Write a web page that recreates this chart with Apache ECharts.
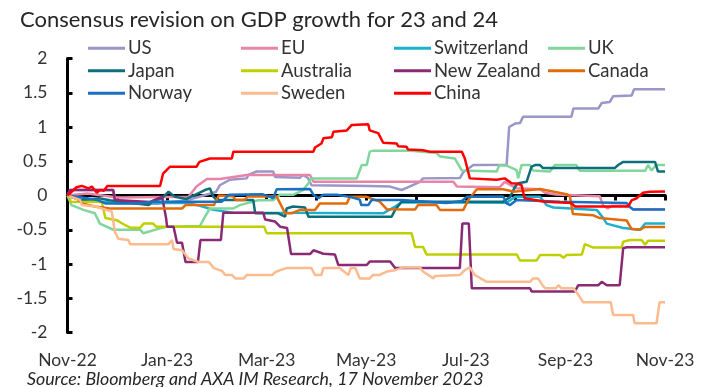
<!DOCTYPE html>
<html>
<head>
<meta charset="utf-8">
<script src="https://cdn.jsdelivr.net/npm/echarts@6/dist/echarts.min.js"></script>
<style>
  html, body { margin: 0; padding: 0; background: #fff; }
  #chart { width: 709px; height: 387px; }
</style>
</head>
<body>
<div id="chart"></div>
<script>
// x = months since 17 Nov 2022, y = cumulative consensus revision (pp)
const monthLabels = ['Nov-22', 'Jan-23', 'Mar-23', 'May-23', 'Jul-23', 'Sep-23', 'Nov-23'];

const us = [[0,0],[0.05,0.08],[0.91,0.08],[0.99,-0.11],[1.80,-0.12],[2.39,-0.07],[2.98,0.05],[3.06,0.15],[3.26,0.23],[3.60,0.25],[3.63,0.30],[3.80,0.35],[4.13,0.35],[4.17,0.27],[4.67,0.26],[4.73,0.30],[4.83,0.255],[4.90,0.15],[6.07,0.14],[6.48,0.13],[6.71,0.08],[6.81,0.11],[7.08,0.20],[7.14,0.25],[7.88,0.255],[7.95,0.34],[8.15,0.445],[8.82,0.45],[8.87,1.00],[8.99,1.05],[9.09,1.06],[9.15,1.15],[10.12,1.15],[10.16,1.27],[10.66,1.27],[10.73,1.35],[10.89,1.365],[10.96,1.45],[11.33,1.46],[11.38,1.55],[12,1.55]];

const eu = [[0,0],[0.4,0.03],[1.0,-0.03],[2.43,-0.02],[2.59,0.13],[2.80,0.24],[3.06,0.24],[3.60,0.30],[4.87,0.30],[4.94,0.20],[7.75,0.20],[7.82,0.13],[8.68,0.12],[8.78,0.20],[8.93,0.14],[9.02,0.105],[9.49,0.09],[9.59,0.04],[9.81,0.015],[10.69,-0.01],[10.76,-0.15],[10.85,-0.19],[10.93,-0.15],[11.25,-0.15],[11.36,-0.2],[12,-0.2]];

const switzerland = [[0,0],[0.25,-0.065],[0.99,-0.11],[2.39,-0.11],[2.66,-0.15],[2.93,-0.21],[3.33,-0.25],[6.34,-0.26],[6.58,-0.16],[6.71,-0.10],[8.82,-0.105],[8.99,-0.02],[9.49,-0.02],[9.62,-0.14],[9.76,-0.175],[10.63,-0.21],[10.76,-0.33],[10.83,-0.41],[11.16,-0.475],[11.20,-0.50],[11.50,-0.50],[11.60,-0.41],[12,-0.41]];

const uk = [[0,0],[0.08,-0.14],[0.32,-0.21],[0.55,-0.26],[0.65,-0.41],[0.92,-0.50],[1.46,-0.50],[1.52,-0.55],[1.86,-0.48],[1.99,-0.455],[2.66,-0.445],[2.76,-0.31],[2.86,-0.19],[3.33,-0.19],[3.46,-0.14],[3.83,-0.07],[4.13,-0.07],[4.27,0.01],[4.53,0.01],[4.73,0.08],[4.84,0.18],[4.90,0.25],[5.81,0.25],[5.91,0.445],[6.01,0.445],[6.07,0.64],[6.14,0.655],[6.91,0.655],[7.41,0.62],[7.48,0.57],[7.78,0.54],[7.92,0.365],[8.62,0.35],[8.67,0.44],[8.82,0.435],[9.02,0.37],[9.05,0.25],[9.12,0.445],[9.29,0.445],[9.35,0.365],[9.69,0.35],[9.79,0.445],[10.22,0.445],[10.29,0.36],[11.60,0.36],[11.66,0.445],[11.73,0.365],[11.82,0.445],[12,0.445]];

const japan = [[0,0],[0.29,-0.07],[0.63,-0.04],[0.85,-0.07],[1.63,-0.14],[1.70,-0.09],[1.90,-0.04],[2.03,0.055],[2.16,-0.02],[2.39,-0.05],[2.76,0.08],[2.86,0.105],[2.93,-0.02],[3.00,-0.065],[3.73,-0.065],[3.77,-0.26],[4.23,-0.26],[4.37,-0.31],[4.40,-0.19],[4.53,-0.16],[4.77,-0.175],[4.84,-0.31],[6.51,-0.31],[6.58,-0.21],[6.71,-0.09],[8.75,-0.09],[8.89,-0.02],[8.99,0.13],[9.05,0.18],[9.22,0.20],[9.32,0.42],[9.39,0.445],[9.49,0.445],[9.55,0.40],[10.99,0.40],[11.06,0.445],[11.16,0.49],[11.80,0.49],[11.86,0.35],[12,0.35]];

const australia = [[0,0],[0.05,-0.04],[0.06,-0.09],[0.69,-0.095],[0.76,-0.33],[0.99,-0.36],[1.09,-0.405],[1.26,-0.47],[1.46,-0.47],[1.53,-0.41],[1.72,-0.41],[1.78,-0.455],[3.95,-0.455],[4.00,-0.55],[6.91,-0.55],[6.98,-0.75],[7.14,-0.75],[7.21,-0.86],[9.02,-0.86],[9.09,-0.95],[9.42,-0.95],[9.49,-0.87],[9.89,-0.87],[9.96,-0.91],[10.02,-0.87],[10.33,-0.86],[10.39,-0.71],[10.56,-0.76],[11.13,-0.76],[11.16,-0.675],[11.30,-0.65],[11.53,-0.65],[11.60,-0.72],[11.66,-0.66],[12,-0.66]];

const newZealand = [[0,0],[0.05,0.08],[0.92,0.08],[0.95,-0.065],[1.66,-0.095],[1.83,-0.04],[1.90,-0.02],[1.98,-0.33],[2.00,-0.455],[2.13,-0.455],[2.20,-0.69],[2.30,-0.69],[2.37,-0.97],[2.62,-0.97],[2.67,-0.65],[3.08,-0.65],[3.13,-0.25],[3.93,-0.25],[3.97,-0.35],[4.17,-0.38],[4.27,-0.455],[4.41,-0.475],[4.49,-0.855],[4.87,-0.855],[4.94,-0.80],[5.14,-0.85],[5.37,-0.86],[5.44,-1.015],[6.01,-1.015],[6.07,-0.965],[6.48,-0.965],[6.58,-1.06],[7.88,-1.06],[7.93,-0.41],[8.06,-0.41],[8.12,-1.355],[9.29,-1.355],[9.32,-1.40],[10.19,-1.40],[10.26,-1.31],[10.66,-1.31],[10.73,-1.26],[10.83,-1.31],[11.09,-1.31],[11.16,-0.77],[11.23,-0.755],[12,-0.755]];

const canada = [[0,0],[0.15,-0.02],[0.29,-0.115],[0.55,-0.16],[0.85,-0.19],[2.30,-0.19],[2.37,-0.14],[2.94,-0.14],[3.04,0.00],[3.32,-0.01],[3.38,-0.065],[3.56,-0.065],[3.62,-0.01],[4.20,-0.015],[4.27,-0.115],[4.37,-0.26],[4.50,-0.26],[4.67,-0.21],[4.97,-0.21],[5.07,-0.115],[5.61,-0.115],[5.67,-0.02],[6.01,-0.02],[6.27,-0.09],[6.41,-0.20],[6.98,-0.205],[7.04,-0.14],[7.41,-0.14],[7.48,-0.21],[7.95,-0.21],[8.05,-0.065],[8.22,0.09],[8.75,0.09],[8.88,0.07],[8.95,0.055],[9.49,0.095],[10.02,0.02],[10.09,-0.01],[10.15,-0.27],[10.56,-0.29],[10.69,-0.33],[11.23,-0.365],[11.33,-0.49],[11.50,-0.50],[11.60,-0.46],[12,-0.46]];

const norway = [[0,0],[0.39,-0.04],[0.59,-0.065],[0.76,-0.115],[1.46,-0.115],[1.70,-0.09],[3.10,-0.09],[3.24,0.01],[3.91,0.02],[4.07,-0.02],[4.13,-0.04],[4.20,0.09],[4.87,0.095],[4.94,0.01],[5.04,-0.04],[5.14,0.01],[5.41,0.01],[5.67,-0.02],[5.87,-0.06],[5.90,-0.14],[6.04,-0.14],[6.11,-0.065],[6.71,-0.065],[7.61,-0.11],[7.92,-0.08],[8.02,-0.02],[8.75,-0.015],[8.82,-0.115],[8.89,-0.14],[9.02,-0.065],[9.89,-0.09],[11.23,-0.11],[11.30,-0.17],[11.36,-0.205],[12,-0.205]];

const sweden = [[0,0],[0.25,-0.065],[0.29,-0.14],[0.56,-0.16],[0.89,-0.235],[0.95,-0.53],[1.02,-0.63],[1.22,-0.65],[1.26,-0.71],[2.03,-0.71],[2.10,-0.65],[2.13,-0.78],[2.30,-0.80],[2.43,-0.92],[2.63,-0.97],[2.84,-0.97],[2.94,-1.06],[3.10,-1.10],[3.17,-1.16],[3.30,-1.16],[3.37,-1.21],[3.54,-1.21],[3.60,-1.16],[4.11,-1.16],[4.17,-1.12],[4.27,-1.09],[4.40,-1.06],[4.90,-1.06],[4.97,-1.16],[5.10,-1.16],[5.14,-1.06],[5.47,-1.06],[5.57,-1.12],[5.64,-1.16],[5.69,-1.06],[5.78,-1.06],[5.87,-1.21],[6.07,-1.21],[6.14,-1.16],[6.27,-1.16],[6.41,-1.11],[6.58,-1.09],[6.74,-1.05],[7.08,-1.05],[7.14,-1.11],[7.35,-1.21],[7.38,-1.175],[7.88,-1.16],[7.98,-1.09],[8.08,-1.05],[8.18,-1.16],[8.42,-1.26],[9.29,-1.26],[9.35,-1.21],[9.45,-1.21],[9.55,-1.32],[9.59,-1.355],[9.81,-1.355],[9.86,-1.31],[9.92,-1.355],[10.16,-1.355],[10.26,-1.45],[10.36,-1.56],[10.91,-1.56],[10.96,-1.745],[11.36,-1.745],[11.39,-1.865],[11.83,-1.865],[11.89,-1.56],[12,-1.56]];

const china = [[0,0],[0.18,0.12],[0.29,0.14],[0.42,0.105],[0.49,0.13],[0.59,0.04],[0.65,0.08],[0.73,0.07],[0.80,0.14],[1.86,0.14],[1.92,0.32],[2.06,0.42],[2.59,0.42],[2.65,0.49],[2.86,0.54],[3.30,0.54],[3.33,0.64],[4.94,0.64],[4.97,0.70],[5.10,0.76],[5.14,0.835],[5.31,0.85],[5.34,0.93],[5.61,0.95],[5.71,1.03],[6.04,1.04],[6.07,0.95],[6.24,0.91],[6.34,0.77],[6.61,0.76],[6.64,0.72],[6.81,0.71],[6.84,0.67],[7.14,0.66],[7.28,0.64],[7.92,0.64],[7.98,0.54],[8.08,0.25],[8.62,0.23],[8.78,0.25],[8.92,0.18],[9.05,0.17],[9.12,0.15],[9.18,-0.04],[9.59,-0.09],[10.12,-0.11],[10.19,-0.16],[11.26,-0.16],[11.33,-0.07],[11.43,-0.04],[11.56,0.04],[11.70,0.055],[12,0.06]];

const seriesDefs = [
  { name: 'US', data: us, color: '#9A96C8' },
  { name: 'EU', data: eu, color: '#E884A8' },
  { name: 'Switzerland', data: switzerland, color: '#1BB1CE' },
  { name: 'UK', data: uk, color: '#80D69B' },
  { name: 'Japan', data: japan, color: '#0E6F7A' },
  { name: 'Australia', data: australia, color: '#BFD000' },
  { name: 'New Zealand', data: newZealand, color: '#8A2A75' },
  { name: 'Canada', data: canada, color: '#E26B0C' },
  { name: 'Norway', data: norway, color: '#1B70C2' },
  { name: 'Sweden', data: sweden, color: '#FCBA8F' },
  { name: 'China', data: china, color: '#FF0000' }
];

const legendColumns = [
  ['US', 'Japan', 'Norway'],
  ['EU', 'Australia', 'Sweden'],
  ['Switzerland', 'New Zealand', 'China'],
  ['UK', 'Canada']
];
const legendLeft = [88, 241, 394, 548];

const FONT = 'Lato';
const TEXT = '#333333';

const chart = echarts.init(document.getElementById('chart'), null, { renderer: 'canvas' });

const legends = legendColumns.map((names, i) => ({
  data: names,
  orient: 'vertical',
  left: legendLeft[i],
  top: 37,
  padding: 0,
  itemGap: 0,
  itemWidth: 37,
  itemHeight: 3,
  icon: 'rect',
  selectedMode: false,
  textStyle: { fontFamily: FONT, fontSize: 18.5, color: TEXT, lineHeight: 22.5, padding: [0, 0, 0, -2] }
}));

const axisBlack = { color: '#000', width: 3 };

chart.setOption({
  animation: false,
  backgroundColor: '#fff',
  title: {
    text: 'Consensus revision on GDP growth for 23 and 24',
    left: 20,
    top: 9,
    padding: 0,
    textStyle: { fontFamily: FONT, fontSize: 22, fontWeight: 'normal', color: '#262626' }
  },
  legend: legends,
  grid: { left: 67.5, right: 44, top: 58.5, bottom: 54.5, containLabel: false },
  xAxis: [
    {
      type: 'value', min: 0, max: 12, interval: 1,
      axisLine: { show: true, onZero: true, lineStyle: axisBlack },
      axisTick: { show: true, inside: false, length: 5, lineStyle: axisBlack },
      axisLabel: { show: false },
      splitLine: { show: false }
    },
    {
      type: 'value', min: 0, max: 12, interval: 1,
      axisLine: { show: true, onZero: true, onZeroAxisIndex: 1, lineStyle: axisBlack },
      axisTick: { show: true, inside: true, length: 5, lineStyle: axisBlack },
      axisLabel: { show: false },
      splitLine: { show: false }
    },
    {
      type: 'value', min: 0, max: 12, interval: 1, position: 'bottom',
      axisLine: { show: false, onZero: false },
      axisTick: { show: false },
      splitLine: { show: false },
      axisLabel: {
        show: true, margin: 19, hideOverlap: false, showMinLabel: true, showMaxLabel: true,
        fontFamily: FONT, fontSize: 17.5, color: TEXT,
        formatter: v => (Math.round(v) % 2 === 0 ? monthLabels[Math.round(v) / 2] : '')
      }
    }
  ],
  yAxis: [
    {
      type: 'value', min: -2, max: 2, interval: 0.5,
      axisLine: { show: true, onZero: false, lineStyle: axisBlack },
      axisTick: { show: true, inside: true, length: 5, lineStyle: axisBlack },
      axisLabel: { margin: 20, fontFamily: FONT, fontSize: 17.5, color: TEXT },
      splitLine: { show: false }
    },
    { type: 'value', min: -2, max: 2, interval: 0.5, show: false }
  ],
  series: seriesDefs.map(s => ({
    name: s.name,
    type: 'line',
    xAxisIndex: 0,
    yAxisIndex: 0,
    data: s.data,
    symbol: 'none',
    color: s.color,
    lineStyle: { color: s.color, width: 2.5 },
    itemStyle: { color: s.color }
  })),
  graphic: [
    {
      type: 'text',
      left: 27,
      top: 370,
      style: {
        text: 'Source: Bloomberg and AXA IM Research, 17 November 2023',
        font: 'italic 17.8px Lato',
        fill: '#262626'
      }
    }
  ]
});
</script>
</body>
</html>
